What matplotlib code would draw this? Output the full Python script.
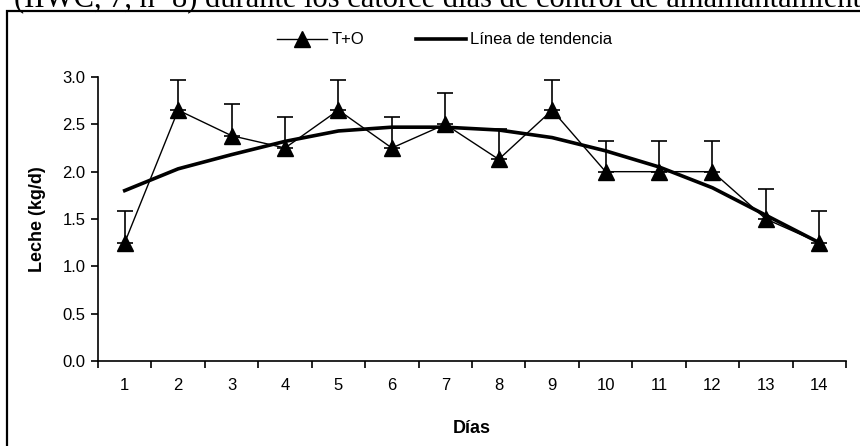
import numpy as np
import matplotlib
matplotlib.use('Agg')
import matplotlib.pyplot as plt
from matplotlib.patches import Rectangle

plt.rcParams['font.family'] = ['Liberation Sans', 'DejaVu Sans']
plt.rcParams['font.size'] = 12

# Datos
dias = [1, 2, 3, 4, 5, 6, 7, 8, 9, 10, 11, 12, 13, 14]
leche = [1.25, 2.65, 2.38, 2.25, 2.65, 2.25, 2.50, 2.13, 2.65, 2.00, 2.00, 2.00, 1.50, 1.25]
error_sup = [0.33, 0.32, 0.33, 0.33, 0.32, 0.33, 0.33, 0.32, 0.32, 0.32, 0.32, 0.32, 0.32, 0.33]
tendencia = [1.80, 2.03, 2.18, 2.32, 2.43, 2.47, 2.47, 2.44, 2.36, 2.22, 2.05, 1.83, 1.54, 1.25]
titulo_sup = "(IIWC, 7, n=8) durante los catorce días de control de amamantamiento"

fig = plt.figure(figsize=(8.6, 4.46), dpi=100)
ax = fig.add_axes([98 / 860, 85 / 446, 748 / 860, 284 / 446])

# Texto cortado de la página original (solo se ve la parte inferior)
fig.text(14 / 860, 1 - 7 / 446, titulo_sup, family='Liberation Serif',
         fontsize=22, ha='left', va='baseline')

# Marco exterior
fig.patches.append(Rectangle((7 / 860, -0.1), 1.2, 1.1 - 11 / 446,
                             transform=fig.transFigure, fill=False,
                             edgecolor='black', linewidth=1.6, clip_on=False))

ax.errorbar(dias, leche, yerr=[np.zeros(len(error_sup)), error_sup],
            fmt='none', ecolor='black', elinewidth=1.2, capsize=5.5,
            capthick=1.2, zorder=2)
l1, = ax.plot(dias, leche, color='black', linewidth=1.0, marker='^',
              markersize=11, zorder=3, label='T+O')
l2, = ax.plot(dias, tendencia, color='black', linewidth=2.6, zorder=4,
              label='Línea de tendencia')

ax.set_xlim(0.5, 14.5)
ax.set_ylim(0, 3.0)
ax.set_yticks(np.arange(0, 3.01, 0.5))
ax.set_yticklabels([f'{v:.1f}' for v in np.arange(0, 3.01, 0.5)])
ax.set_xticks(dias)
ax.set_xticks(np.arange(0.5, 14.6, 1), minor=True)
ax.tick_params(axis='x', which='major', length=0, pad=12)
ax.tick_params(axis='x', which='minor', length=5, width=1.2, direction='out')
ax.tick_params(axis='y', length=5, width=1.2, direction='out', pad=4)

for s in ['top', 'right']:
    ax.spines[s].set_visible(False)
for s in ['left', 'bottom']:
    ax.spines[s].set_linewidth(1.2)

ax.set_ylabel('Leche (kg/d)', fontweight='bold', fontsize=13, labelpad=12)
ax.set_xlabel('Días', fontweight='bold', fontsize=13, labelpad=20)

fig.legend(handles=[l1, l2], loc='center', ncol=2, frameon=False,
           bbox_to_anchor=(0.517, 1 - 40 / 446), handlelength=3.0,
           columnspacing=3.1, handletextpad=0.25, fontsize=12)

fig.savefig('out.png', dpi=100)
